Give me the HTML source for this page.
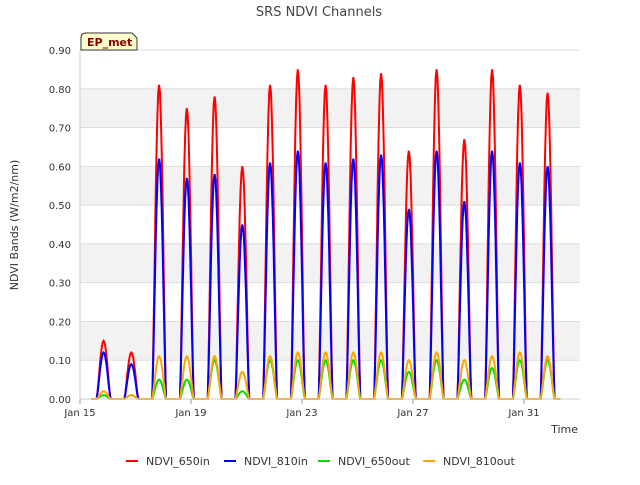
<!DOCTYPE html>
<html><head><meta charset="utf-8"><style>
body{margin:0;background:#fff;font-family:"Liberation Sans","DejaVu Sans",sans-serif;}
svg text{font-family:"DejaVu Sans","Liberation Sans",sans-serif;}
</style></head><body>
<svg id="chart" width="640" height="480" xmlns="http://www.w3.org/2000/svg">
<text x="319" y="16" text-anchor="middle" font-size="13" fill="#444">SRS NDVI Channels</text>
<g id="bands"></g>
<g id="grid"></g>
<g id="series"></g>
<g id="axes"></g>
<g>
<path d="M81,50 L81,38 Q81,33 86,33 L132,33 L137,38 L137,50 Z" fill="#ffffcc" stroke="#333" stroke-width="1"/>
<text x="87" y="46" font-size="11" font-weight="bold" fill="#8b0000">EP_met</text>
</g>
<text x="18" y="225" font-size="11" fill="#333" text-anchor="middle" transform="rotate(-90 18 225)">NDVI Bands (W/m2/nm)</text>
<text x="578" y="433" font-size="11" fill="#333" text-anchor="end">Time</text>
<g id="legend"></g>
</svg>
<script>
const dayPeaks=[15.85,16.85,17.85,18.85,19.85,20.85,21.85,22.85,23.85,24.85,25.85,26.85,27.85,28.85,29.85,30.85,31.85];
const ndvi650in=[0.15,0.12,0.81,0.75,0.78,0.60,0.81,0.85,0.81,0.83,0.84,0.64,0.85,0.67,0.85,0.81,0.79];
const ndvi810in=[0.12,0.09,0.62,0.57,0.58,0.45,0.61,0.64,0.61,0.62,0.63,0.49,0.64,0.51,0.64,0.61,0.60];
const ndvi650out=[0.01,0.01,0.05,0.05,0.10,0.02,0.10,0.10,0.10,0.10,0.10,0.07,0.10,0.05,0.08,0.10,0.10];
const ndvi810out=[0.02,0.01,0.11,0.11,0.11,0.07,0.11,0.12,0.12,0.12,0.12,0.10,0.12,0.10,0.11,0.12,0.11];
const yTicks=[0,0.1,0.2,0.3,0.4,0.5,0.6,0.7,0.8,0.9];
const xTickDays=[15,19,23,27,31];
const xTickLabels=["Jan 15","Jan 19","Jan 23","Jan 27","Jan 31"];
const NS="http://www.w3.org/2000/svg";
const L=80,R=580,T=50,B=399;
const x=d=>L+(d-15)*27.75;
const y=v=>B-(v/0.9)*(B-T);
function mk(tag,attrs,parent){const e=document.createElementNS(NS,tag);for(const k in attrs)e.setAttribute(k,attrs[k]);parent.appendChild(e);return e;}
const bands=document.getElementById('bands'),grid=document.getElementById('grid'),axes=document.getElementById('axes'),series=document.getElementById('series'),legend=document.getElementById('legend');
mk('rect',{x:L,y:T,width:R-L,height:B-T,fill:'#fff'},bands);
for(let i=1;i<yTicks.length-1;i+=2){
 const r=mk('rect',{x:L,y:y(yTicks[i+1]),width:R-L,height:y(yTicks[i])-y(yTicks[i+1]),fill:'#f2f2f2'},bands);
 
 
}
yTicks.forEach(v=>{
 const g=mk('line',{x1:L,x2:R,y1:y(v),y2:y(v),stroke:'#ddd','stroke-width':1},grid);
 
 
 const t=mk('text',{x:L-9,y:y(v)+4,'text-anchor':'end','font-size':10,fill:'#333'},axes);
 t.textContent=v.toFixed(2);
 
 
});
mk('line',{x1:L,x2:L,y1:T,y2:B,stroke:'#ccc'},axes);
mk('line',{x1:L,x2:R,y1:B,y2:B,stroke:'#ccc'},axes);
xTickDays.forEach((d,i)=>{
 mk('line',{x1:x(d),x2:x(d),y1:B,y2:B+5,stroke:'#999'},axes);
 const t=mk('text',{x:x(d),y:B+17,'text-anchor':'middle','font-size':10,fill:'#333'},axes);
 t.textContent=xTickLabels[i];
 
 
});
const defs=[["NDVI_650in",ndvi650in,"#ff0000"],["NDVI_810in",ndvi810in,"#0000ff"],["NDVI_650out",ndvi650out,"#00dd00"],["NDVI_810out",ndvi810out,"#ffa500"]];
defs.forEach(([name,vals,col])=>{
 let pts=[[x(15.4),y(0)]];
 dayPeaks.forEach((d,i)=>{
  const hw=0.25;
  pts.push([x(d-hw),y(0)]);
  for(let k=-8;k<=8;k++){const f=k/8;pts.push([x(d+f*hw),y(vals[i]*Math.pow(Math.cos(f*Math.PI/2),1.3))]);}
  pts.push([x(d+hw),y(0)]);
 });
 pts.push([x(32.3),y(0)]);
 const p=mk('polyline',{points:pts.map(q=>q[0].toFixed(1)+','+q[1].toFixed(1)).join(' '),fill:'none',stroke:col,'stroke-width':2},series);
 
 
});
const lx=[126,224,318,423];
defs.forEach(([name,,col],i)=>{
 const g=mk('g',{},legend);
 
 
 mk('line',{x1:lx[i],x2:lx[i]+12,y1:461,y2:461,stroke:col,'stroke-width':2},g);
 const t=mk('text',{x:lx[i]+20,y:465,'font-size':11,fill:'#333'},g);
 t.textContent=name;
});
</script>
</body></html>
